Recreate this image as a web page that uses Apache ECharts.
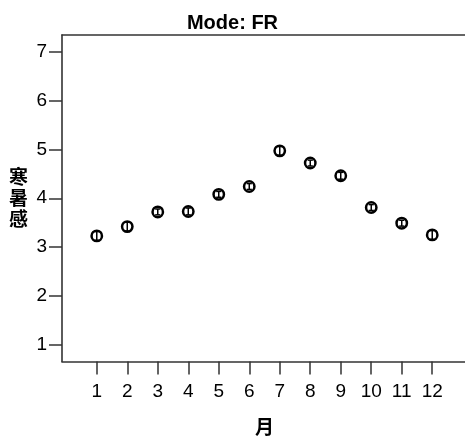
<!DOCTYPE html>
<html>
<head>
<meta charset="utf-8">
<script src="https://cdn.jsdelivr.net/npm/echarts@6/dist/echarts.min.js"></script>
<style>html,body{margin:0;padding:0;background:#fff}#c{width:465px;height:436px}</style>
</head>
<body>
<div id="c"></div>
<script>
const titleText = 'Mode: FR';
const xName = '月';
const yName = '寒暑感';
const months = [1, 2, 3, 4, 5, 6, 7, 8, 9, 10, 11, 12];
const means = [3.23, 3.42, 3.72, 3.73, 4.08, 4.24, 4.97, 4.72, 4.46, 3.81, 3.49, 3.25];
const errs = [0.09, 0.09, 0.06, 0.07, 0.06, 0.06, 0.09, 0.06, 0.07, 0.06, 0.06, 0.09];
const xTicks = [1, 2, 3, 4, 5, 6, 7, 8, 9, 10, 11, 12];
const yTicks = [1, 2, 3, 4, 5, 6, 7];

const chart = echarts.init(document.getElementById('c'), null, {renderer: 'canvas'});
const data = months.map((m, i) => [m, means[i], errs[i]]);
const axisColor = '#333333';
const font = '"Liberation Sans", Arial, sans-serif';
const cjk = '"Noto Sans CJK SC", sans-serif';
const xMin = -0.14, xMax = 13.14;

chart.setOption({
  animation: false,
  backgroundColor: '#fff',
  title: {
    text: titleText, left: 'center', top: 8,
    textStyle: {fontFamily: font, fontSize: 20, fontWeight: 'bold', color: '#000'}
  },
  grid: {left: 62, right: -2, top: 35, bottom: 74.5, containLabel: false, outerBoundsMode: 'none', show: false},
  xAxis: [{
    type: 'value', min: xMin, max: xMax, position: 'bottom',
    name: xName, nameLocation: 'middle', nameGap: 56,
    nameTextStyle: {fontFamily: cjk, fontSize: 19, fontWeight: 'bold', color: '#000'},
    axisLine: {show: true, onZero: false, lineStyle: {color: axisColor, width: 1.6}},
    splitLine: {show: false},
    axisTick: {show: true, length: 13, lineStyle: {color: axisColor, width: 1.5}, customValues: xTicks},
    axisLabel: {fontFamily: font, fontSize: 19, color: '#000', margin: 21, customValues: xTicks}
  }, {
    type: 'value', min: xMin, max: xMax, position: 'top',
    axisLine: {show: true, onZero: false, lineStyle: {color: axisColor, width: 1.6}},
    axisTick: {show: false}, axisLabel: {show: false}, splitLine: {show: false}
  }],
  yAxis: {
    type: 'value', min: 0.66, max: 7.34,
    name: yName.split('').join('\n'), nameLocation: 'middle', nameRotate: 0, nameGap: 34,
    nameTextStyle: {fontFamily: cjk, fontSize: 19, fontWeight: 'bold', color: '#000', lineHeight: 21},
    axisLine: {show: true, onZero: false, lineStyle: {color: axisColor, width: 1.6}},
    splitLine: {show: false},
    axisTick: {show: true, length: 13, lineStyle: {color: axisColor, width: 1.5}, customValues: yTicks},
    axisLabel: {fontFamily: font, fontSize: 19, color: '#000', margin: 15, customValues: yTicks}
  },
  series: [{
    type: 'custom',
    xAxisIndex: 0,
    data: data,
    renderItem: function (params, api) {
      const x = api.value(0), y = api.value(1), e = api.value(2);
      const c = api.coord([x, y]);
      const lo = api.coord([x, y - e]);
      const hi = api.coord([x, y + e]);
      const cw = 2.6;
      const ls = {stroke: '#000', lineWidth: 1.5};
      return {
        type: 'group',
        children: [
          {type: 'circle', shape: {cx: c[0], cy: c[1], r: 5.2}, style: {fill: '#fff', stroke: '#000', lineWidth: 2.5}},
          {type: 'line', shape: {x1: c[0], y1: lo[1], x2: c[0], y2: hi[1]}, style: ls},
          {type: 'line', shape: {x1: c[0] - cw, y1: lo[1], x2: c[0] + cw, y2: lo[1]}, style: ls},
          {type: 'line', shape: {x1: c[0] - cw, y1: hi[1], x2: c[0] + cw, y2: hi[1]}, style: ls}
        ]
      };
    }
  }]
});
</script>
</body>
</html>
